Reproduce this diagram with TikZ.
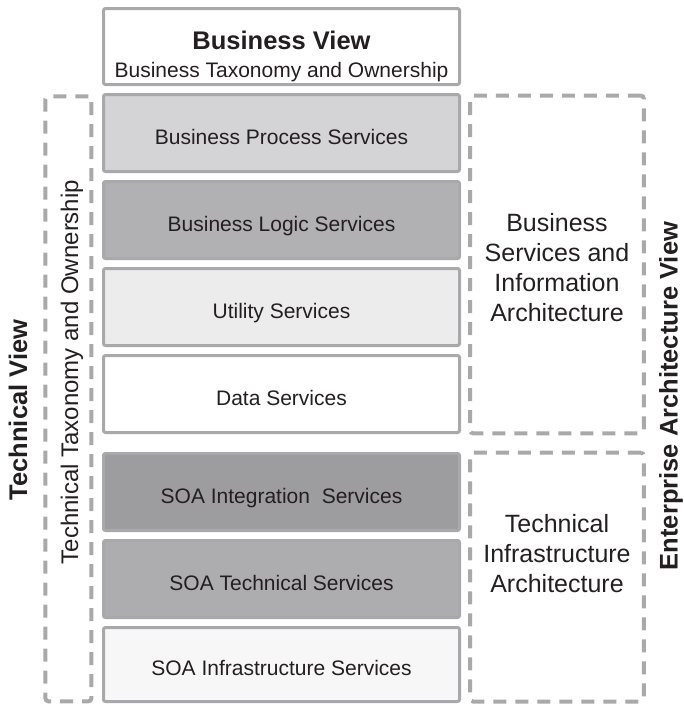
\documentclass[tikz,border=0pt]{standalone}
\usepackage{fontspec}
\setmainfont{Liberation Sans}
\usetikzlibrary{positioning}
\definecolor{edge}{HTML}{A9A9AB}
\definecolor{ink}{HTML}{231F20}
\tikzset{
  layer/.style={draw=edge,line width=3pt,rounded corners=2pt,rectangle,minimum width=356pt,minimum height=77pt,inner sep=0pt,text=ink,font=\fontsize{21}{25}\selectfont,text height=22pt,text depth=0pt},
  area/.style={draw=edge,line width=4pt,dash pattern=on 13pt off 9pt,rounded corners=3pt,rectangle,inner sep=0pt},
  areatext/.style={text=ink,align=center,font=\fontsize{25}{30}\selectfont},
  viewtext/.style={text=ink,rotate=90,font=\bfseries\fontsize{25.5}{30}\selectfont}
}
\begin{document}
\begin{tikzpicture}[x=1pt,y=-1pt]
    \useasboundingbox (0,0) rectangle (684,705);
        % service stack
        \node(businessview)[layer,minimum height=76pt] at (281.5,46.5) {};
        \node(bvtitle)[anchor=base,text=ink,font=\bfseries\fontsize{25.5}{30}\selectfont] at ([yshift=-42pt]businessview.north) {Business View};
        \node(bvsub)[anchor=base,text=ink,font=\fontsize{21}{25}\selectfont] at ([yshift=-70pt]businessview.north) {Business Taxonomy and Ownership};
        \node(process)[below =7pt of businessview,layer,fill={rgb,255:red,212;green,212;blue,214}]{Business Process Services};
        \node(logic)[below =7pt of process,layer,fill={rgb,255:red,177;green,177;blue,180}]{Business Logic Services};
        \node(utility)[below =7pt of logic,layer,fill={rgb,255:red,236;green,236;blue,237}]{Utility Services};
        \node(dataservices)[below =7pt of utility,layer,fill=white]{Data Services};
        \node(integration)[below =18pt of dataservices,layer,fill={rgb,255:red,157;green,157;blue,160}]{SOA Integration\ \ Services};
        \node(technical)[below =7pt of integration,layer,fill={rgb,255:red,173;green,173;blue,176}]{SOA Technical Services};
        \node(infrastructure)[below =7pt of technical,layer,minimum height=74pt,fill={rgb,255:red,247;green,247;blue,247}]{SOA Infrastructure Services};
        % dashed areas
        \node(techarea)[area,minimum width=46pt,minimum height=605pt] at (68.4,398.8) {};
        \node(businessarea)[area,minimum width=173.7pt,minimum height=337.8pt] at (556.9,264.4) {};
        \node(infraarea)[area,minimum width=173.7pt,minimum height=248.8pt] at (556.9,577.1) {};
        % texts
        \node(taxonomy)[text=ink,rotate=90,font=\fontsize{24}{28}\selectfont] at (72,372) {Technical Taxonomy and Ownership};
        \node(techview)[viewtext] at (18,410) {Technical View};
        \node(eaview)[viewtext] at (671,396) {Enterprise Architecture View};
        \node(bsia)[areatext] at (557,268) {Business\\Services and\\Information\\Architecture};
        \node(tia)[areatext] at (557,554) {Technical\\Infrastructure\\Architecture};
    \end{tikzpicture}
\end{document}
